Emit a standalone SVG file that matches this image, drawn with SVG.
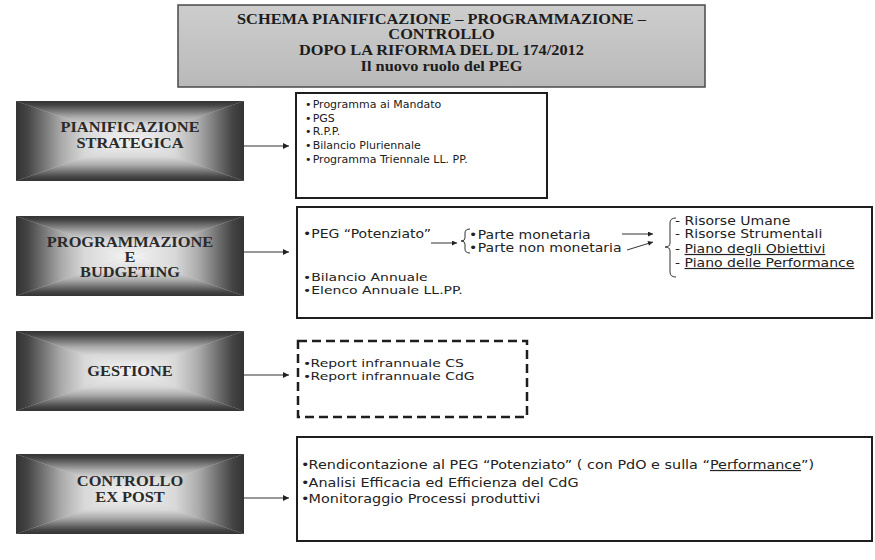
<svg xmlns="http://www.w3.org/2000/svg" width="875" height="560" viewBox="0 0 875 560">
  <defs>
    <style>
      .ttl { font-family: "Liberation Serif", "Times New Roman", serif; font-weight: bold; font-size: 14px; fill: #1c1c1c; text-anchor: middle; }
      .lbl { font-family: "Liberation Serif", "Times New Roman", serif; font-weight: bold; font-size: 14px; fill: #2a2a2a; text-anchor: middle; }
      .txt { font-family: "DejaVu Sans", "Noto Sans", sans-serif; fill: #222; }
      .s10 { font-size: 10px; }
      .s11 { font-size: 11px; }
      .s12 { font-size: 12px; }
      .s12b { font-size: 12.3px; }
      .u { text-decoration: underline; }
      .box { fill: #fff; stroke: #1e1e1e; stroke-width: 2; }
      .dash { fill: #fff; stroke: #1e1e1e; stroke-width: 2.5; stroke-dasharray: 9 5; }
      .conn { fill: none; stroke: #333; stroke-width: 1.2; }
      .thin { fill: none; stroke: #333; stroke-width: 1; }
    </style>
    <marker id="ah" viewBox="0 0 10 10" refX="10" refY="5" markerWidth="7" markerHeight="6" markerUnits="userSpaceOnUse" orient="auto">
      <path d="M0,0 L10,5 L0,10 z" fill="#222"/>
    </marker>
    <marker id="ahs" viewBox="0 0 10 10" refX="10" refY="5" markerWidth="6" markerHeight="5" markerUnits="userSpaceOnUse" orient="auto">
      <path d="M0,0 L10,5 L0,10 z" fill="#222"/>
    </marker>
    <linearGradient id="gTitle" x1="0" y1="0" x2="0" y2="1">
      <stop offset="0" stop-color="#cdcdcd"/>
      <stop offset="1" stop-color="#b9b9b9"/>
    </linearGradient>
    <!-- bevelled "rectangle from centre" shading for the phase boxes -->
    <linearGradient id="gTop" gradientUnits="userSpaceOnUse" x1="0" y1="0" x2="0" y2="40">
      <stop offset="0" stop-color="#333"/>
      <stop offset="0.1" stop-color="#444"/>
      <stop offset="0.25" stop-color="#777"/>
      <stop offset="0.4" stop-color="#ababab"/>
      <stop offset="0.6" stop-color="#d8d8d8"/>
      <stop offset="1" stop-color="#f5f5f5"/>
    </linearGradient>
    <linearGradient id="gBot" href="#gTop" x1="0" y1="80" x2="0" y2="40"/>
    <linearGradient id="gLeft" href="#gTop" x1="0" y1="0" x2="114" y2="0"/>
    <linearGradient id="gRight" href="#gTop" x1="228" y1="0" x2="114" y2="0"/>
    <symbol id="bevel" viewBox="0 0 228 80" width="228" height="80">
      <rect width="228" height="80" fill="#c8c8c8"/>
      <polygon points="0,0 228,0 114,40" fill="url(#gTop)"/>
      <polygon points="0,80 228,80 114,40" fill="url(#gBot)"/>
      <polygon points="0,0 0,80 114,40" fill="url(#gLeft)"/>
      <polygon points="228,0 228,80 114,40" fill="url(#gRight)"/>
    </symbol>
  </defs>

  <rect width="875" height="560" fill="#fff"/>

  <!-- heading -->
  <g id="title">
    <rect x="178" y="5" width="527" height="82" fill="url(#gTitle)" stroke="#4a4a4a" stroke-width="1.5"/>
    <g transform="translate(441.5 0) scale(1.17 1)">
      <text class="ttl" x="0" y="24">SCHEMA PIANIFICAZIONE – PROGRAMMAZIONE –</text>
      <text class="ttl" x="0" y="39">CONTROLLO</text>
      <text class="ttl" x="0" y="55">DOPO LA RIFORMA DEL DL 174/2012</text>
      <text class="ttl" x="0" y="71">Il nuovo ruolo del PEG</text>
    </g>
  </g>

  <!-- phase boxes -->
  <g id="phase-pianificazione">
    <use href="#bevel" x="16" y="101"/>
    <g transform="translate(130 0) scale(1.17 1)">
      <text class="lbl" x="0" y="132">PIANIFICAZIONE</text>
      <text class="lbl" x="0" y="148">STRATEGICA</text>
    </g>
  </g>
  <g id="phase-programmazione">
    <use href="#bevel" x="16" y="216"/>
    <g transform="translate(130 0) scale(1.17 1)">
      <text class="lbl" x="0" y="247">PROGRAMMAZIONE</text>
      <text class="lbl" x="0" y="262">E</text>
      <text class="lbl" x="0" y="277">BUDGETING</text>
    </g>
  </g>
  <g id="phase-gestione">
    <use href="#bevel" x="16" y="331"/>
    <g transform="translate(130 0) scale(1.17 1)">
      <text class="lbl" x="0" y="376">GESTIONE</text>
    </g>
  </g>
  <g id="phase-controllo">
    <use href="#bevel" x="16" y="454"/>
    <g transform="translate(130 0) scale(1.17 1)">
      <text class="lbl" x="0" y="486">CONTROLLO</text>
      <text class="lbl" x="0" y="502">EX POST</text>
    </g>
  </g>

  <!-- instrument lists -->
  <g id="list-pianificazione">
    <rect class="box" x="296" y="93" width="251" height="105"/>
    <g class="txt s10" transform="translate(305 0) scale(1.1 1)">
      <text y="108">•<tspan x="7">Programma ai Mandato</tspan></text>
      <text y="122">•<tspan x="7">PGS</tspan></text>
      <text y="135">•<tspan x="7">R.P.P.</tspan></text>
      <text y="149">•<tspan x="7">Bilancio Pluriennale</tspan></text>
      <text y="163">•<tspan x="7">Programma Triennale LL. PP.</tspan></text>
    </g>
  </g>

  <g id="list-programmazione">
    <rect class="box" x="297" y="207" width="575" height="111"/>
    <g class="txt s12" transform="translate(303 0) scale(1.17 1)">
      <text y="238">•<tspan x="7">PEG “Potenziato”</tspan></text>
    </g>
    <g class="txt s11" transform="translate(303 0) scale(1.27 1)">
      <text y="281">•<tspan x="6.5">Bilancio Annuale</tspan></text>
      <text y="294">•<tspan x="6.5">Elenco Annuale LL.PP.</tspan></text>
    </g>
    <path class="thin" d="M470 229 Q465 229 465 233 L465 238 Q465 241 461 241 Q465 241 465 244 L465 249 Q465 253 470 253"/>
    <g class="txt s12" transform="translate(469 0) scale(1.17 1)">
      <text y="239">•<tspan x="7.5">Parte monetaria</tspan></text>
      <text y="252">•<tspan x="7.5">Parte non monetaria</tspan></text>
    </g>
    <path class="thin" d="M676 218 Q670 218 670 223 L670 243 Q670 247 665 247 Q670 247 670 251 L670 272 Q670 277 676 277"/>
    <g class="txt s12" transform="translate(675 0) scale(1.17 1)">
      <text y="225">- Risorse Umane</text>
      <text y="238">- Risorse Strumentali</text>
      <text y="253">- <tspan class="u">Piano degli Obiettivi</tspan></text>
      <text y="267">- <tspan class="u">Piano delle Performance</tspan></text>
    </g>
  </g>

  <g id="list-gestione">
    <rect class="dash" x="298" y="341" width="229" height="76"/>
    <g class="txt s11" transform="translate(303 0) scale(1.27 1)">
      <text y="367">•<tspan x="6">Report  infrannuale CS</tspan></text>
      <text y="380">•<tspan x="6">Report infrannuale CdG</tspan></text>
    </g>
  </g>

  <g id="list-controllo">
    <rect class="box" x="297" y="437" width="575" height="104"/>
    <g class="txt s12b" transform="translate(301 0) scale(1.17 1)">
      <text y="469">•<tspan x="6.5">Rendicontazione al PEG “Potenziato” ( con PdO e sulla “<tspan class="u">Performance</tspan>”)</tspan></text>
      <text y="487">•<tspan x="6.5">Analisi Efficacia ed Efficienza del CdG</tspan></text>
      <text y="503">•<tspan x="6.5">Monitoraggio Processi produttivi</tspan></text>
    </g>
  </g>

  <!-- connectors -->
  <g id="connectors">
    <line class="conn" x1="244" y1="146" x2="289" y2="146" marker-end="url(#ah)"/>
    <line class="conn" x1="244" y1="252" x2="289" y2="252" marker-end="url(#ah)"/>
    <line class="conn" x1="244" y1="375" x2="289" y2="375" marker-end="url(#ah)"/>
    <line class="conn" x1="244" y1="498" x2="289" y2="498" marker-end="url(#ah)"/>
    <line class="thin" x1="431" y1="243" x2="457" y2="243" marker-end="url(#ahs)"/>
    <line class="thin" x1="622" y1="234" x2="653" y2="234" marker-end="url(#ahs)"/>
    <line class="thin" x1="627" y1="250" x2="653" y2="242" marker-end="url(#ahs)"/>
  </g>
</svg>
